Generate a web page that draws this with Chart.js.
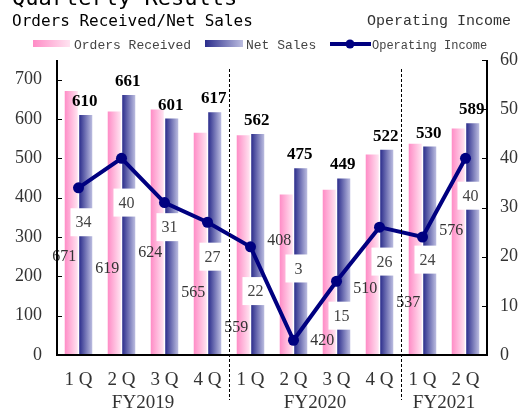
<!DOCTYPE html>
<html><head><meta charset="utf-8">
<script src="https://cdn.jsdelivr.net/npm/chart.js@4.4.1/dist/chart.umd.min.js"></script>
<style>html,body{margin:0;padding:0;background:#fff;overflow:hidden}</style>
</head><body>
<canvas id="c" width="529" height="408"></canvas>
<script>
// ---- data ----
const quarters = ['1 Q','2 Q','3 Q','4 Q','1 Q','2 Q','3 Q','4 Q','1 Q','2 Q'];
const fiscalYears = ['FY2019','FY2020','FY2021'];
const quartersPerYear = [4, 4, 2];
const ordersReceived = [671, 619, 624, 565, 559, 408, 420, 510, 537, 576];
const netSales = [610, 661, 601, 617, 562, 475, 449, 522, 530, 589];
const operatingIncome = [34, 40, 31, 27, 22, 3, 15, 26, 24, 40];
const leftTicks = [0, 100, 200, 300, 400, 500, 600, 700];
const rightTicks = [0, 10, 20, 30, 40, 50, 60];
// where the value labels sit (in each axis's units)
const ordersLabelAt = [252, 221, 262, 160, 71, 292, 38, 170, 135, 318];
const incomeLabelAt = [27, 31, 26, 20, 13, 17.6, 8, 19, 19.4, 32.4];

const SERIF = '"Liberation Serif", "DejaVu Serif", serif';
const NAVY = '#000080';

function pinkGrad(ctx, x0, x1) {
  const g = ctx.createLinearGradient(x0, 0, x1, 0);
  g.addColorStop(0, '#ff8cc6'); g.addColorStop(1, '#ffe4f1'); return g;
}
function blueGrad(ctx, x0, x1) {
  const g = ctx.createLinearGradient(x0, 0, x1, 0);
  g.addColorStop(0, '#2b2d8c'); g.addColorStop(1, '#bcbde0'); return g;
}

const decor = {
  id: 'decor',
  beforeDatasetsDraw(chart) {
    const ctx = chart.ctx;
    [0, 1].forEach(di => {
      const meta = chart.getDatasetMeta(di);
      meta.data.forEach(el => {
        const x0 = el.x - el.width / 2, x1 = el.x + el.width / 2;
        const g = di === 0 ? pinkGrad(ctx, x0, x1) : blueGrad(ctx, x0, x1);
        el.options = Object.assign({}, el.options, { backgroundColor: g });
      });
    });
  },
  beforeDatasetDraw(chart, args) {
    if (args.index !== 2) return;
    const ctx = chart.ctx, xs = chart.scales.x, y1 = chart.scales.y1;
    ctx.save();
    ctx.font = '16px ' + SERIF;
    ctx.textAlign = 'center'; ctx.textBaseline = 'middle';
    operatingIncome.forEach((v, i) => {
      const cx = xs.getPixelForValue(i) + 5;
      const cy = y1.getPixelForValue(incomeLabelAt[i]);
      ctx.fillStyle = '#fff';
      ctx.fillRect(cx - 13, cy - 14, 26, 28);
      ctx.fillStyle = '#444';
      ctx.fillText(String(v), cx, cy + 1);
    });
    ctx.restore();
  },
  afterDatasetsDraw(chart) {
    const ctx = chart.ctx, xs = chart.scales.x, y = chart.scales.y, y1 = chart.scales.y1;
    const a = chart.chartArea;
    ctx.save();
    // orders labels
    ctx.font = '16px ' + SERIF; ctx.fillStyle = '#333';
    ctx.textAlign = 'center'; ctx.textBaseline = 'middle';
    const pinkMeta = chart.getDatasetMeta(0), blueMeta = chart.getDatasetMeta(1);
    ordersReceived.forEach((v, i) => {
      ctx.fillText(String(v), pinkMeta.data[i].x - 7, y.getPixelForValue(ordersLabelAt[i]) + 1);
    });
    // net sales labels
    ctx.font = 'bold 17px ' + SERIF; ctx.fillStyle = '#000';
    ctx.textBaseline = 'alphabetic';
    netSales.forEach((v, i) => {
      const el = blueMeta.data[i];
      ctx.fillText(String(v), el.x - 1, el.y - 9);
    });
    // axes
    ctx.strokeStyle = '#000'; ctx.lineWidth = 2;
    ctx.beginPath();
    ctx.moveTo(a.left, a.top); ctx.lineTo(a.left, a.bottom); ctx.lineTo(a.right, a.bottom); ctx.lineTo(a.right, a.top);
    ctx.stroke();
    ctx.lineWidth = 1;
    ctx.beginPath();
    leftTicks.forEach(v => { const py = Math.round(y.getPixelForValue(v)) + 0.5; ctx.moveTo(a.left, py); ctx.lineTo(a.left + 5, py); });
    rightTicks.forEach(v => { const py = Math.round(y1.getPixelForValue(v)) + 0.5; ctx.moveTo(a.right - 5, py); ctx.lineTo(a.right, py); });
    ctx.stroke();
    // fiscal-year dividers and labels
    ctx.setLineDash([3, 2]);
    ctx.beginPath();
    let start = 0;
    const bounds = [];
    quartersPerYear.forEach((n, k) => {
      const l = xs.getPixelForValue(start) - xs.width / quarters.length / 2;
      const r = xs.getPixelForValue(start + n - 1) + xs.width / quarters.length / 2;
      bounds.push([l, r]);
      if (k > 0) { const px = Math.round(l) + 0.5; ctx.moveTo(px, 69); ctx.lineTo(px, 400); }
      start += n;
    });
    ctx.stroke();
    ctx.setLineDash([]);
    ctx.font = '19px ' + SERIF; ctx.fillStyle = '#333'; ctx.textAlign = 'center';
    fiscalYears.forEach((t, k) => ctx.fillText(t, (bounds[k][0] + bounds[k][1]) / 2, 408));
    ctx.restore();
  },
  afterDraw(chart) {
    const ctx = chart.ctx;
    ctx.save();
    ctx.textBaseline = 'alphabetic'; ctx.textAlign = 'left';
    ctx.fillStyle = '#000';
    ctx.font = '22px "DejaVu Sans Mono", monospace';
    ctx.fillText('Quarterly Results', 12, 5);
    ctx.font = '16px "DejaVu Sans Mono", monospace';
    ctx.fillText('Orders Received/Net Sales', 12, 26);
    ctx.fillStyle = '#333';
    ctx.font = '15px "Liberation Mono", monospace';
    ctx.fillText('Operating Income', 367, 25);
    // legend
    ctx.fillStyle = pinkGrad(ctx, 33, 70); ctx.fillRect(33, 40, 37, 7);
    ctx.fillStyle = blueGrad(ctx, 205, 243); ctx.fillRect(205, 40, 38, 7);
    ctx.strokeStyle = NAVY; ctx.lineWidth = 4;
    ctx.beginPath(); ctx.moveTo(330, 44); ctx.lineTo(371, 44); ctx.stroke();
    ctx.fillStyle = NAVY; ctx.beginPath(); ctx.arc(350, 44, 4.5, 0, Math.PI * 2); ctx.fill();
    ctx.fillStyle = '#444'; ctx.font = '13px "Liberation Mono", monospace';
    ctx.fillText('Orders Received', 74, 49);
    ctx.fillText('Net Sales', 246, 49);
    ctx.font = '12px "Liberation Mono", monospace';
    ctx.fillText('Operating Income', 372, 49);
    ctx.restore();
  }
};

new Chart(document.getElementById('c'), {
  data: {
    labels: quarters,
    datasets: [
      { type: 'bar', label: 'Orders Received', data: ordersReceived, yAxisID: 'y', order: 1,
        backgroundColor: '#ff8cc6', categoryPercentage: 0.674, barPercentage: 0.9 },
      { type: 'bar', label: 'Net Sales', data: netSales, yAxisID: 'y', order: 1,
        backgroundColor: '#2b2d8c', categoryPercentage: 0.674, barPercentage: 0.9 },
      { type: 'line', label: 'Operating Income', data: operatingIncome, yAxisID: 'y1', order: 0,
        borderColor: NAVY, backgroundColor: NAVY, borderWidth: 4, pointRadius: 5.5,
        pointBackgroundColor: NAVY, pointBorderWidth: 0, tension: 0 }
    ]
  },
  options: {
    responsive: false, animation: false, devicePixelRatio: 1,
    layout: { padding: { top: 60, left: 0, right: 0, bottom: 0 } },
    plugins: { legend: { display: false }, tooltip: { enabled: false } },
    scales: {
      x: {
        afterFit(s) { s.height = 53; },
        grid: { display: false, drawTicks: false }, border: { display: false },
        ticks: { padding: 14, autoSkip: false, maxRotation: 0, color: '#333', font: { family: SERIF, size: 19 } }
      },
      y: {
        position: 'left', min: 0, max: 750,
        afterFit(s) { s.width = 57; },
        afterBuildTicks(s) { s.ticks = leftTicks.map(v => ({ value: v })); },
        grid: { display: false, drawTicks: false }, border: { display: false },
        ticks: { padding: 15, color: '#333', font: { family: SERIF, size: 18 } }
      },
      y1: {
        position: 'right', min: 0, max: 60,
        afterFit(s) { s.width = 42; },
        afterBuildTicks(s) { s.ticks = rightTicks.map(v => ({ value: v })); },
        grid: { display: false, drawTicks: false }, border: { display: false },
        ticks: { padding: 13, color: '#333', font: { family: SERIF, size: 18 } }
      }
    }
  },
  plugins: [decor]
});
</script>
</body></html>
